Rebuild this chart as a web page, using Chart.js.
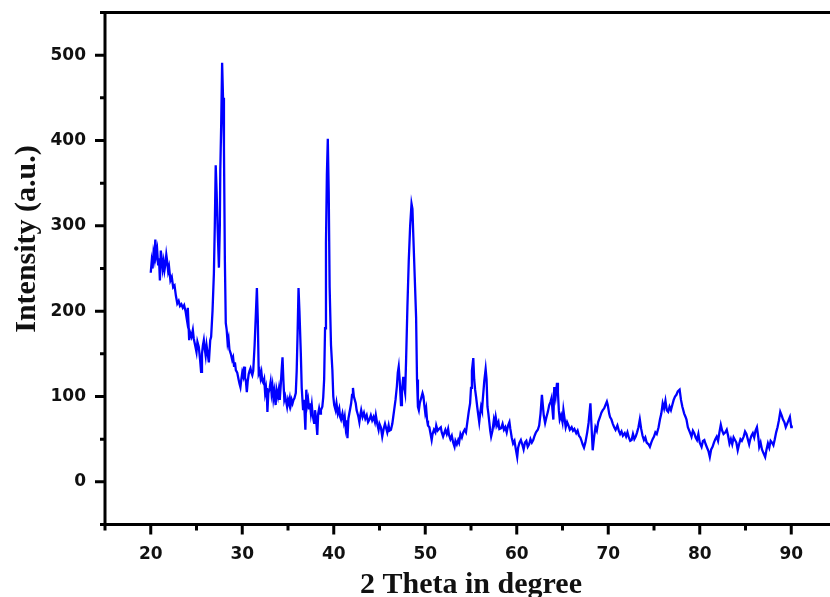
<!DOCTYPE html>
<html>
<head>
<meta charset="utf-8">
<title>XRD pattern</title>
<script src="https://cdn.jsdelivr.net/npm/chart.js@4.4.1/dist/chart.umd.min.js"></script>
<style>
  html, body { margin: 0; padding: 0; background: #fff; overflow: hidden; }
  #xrdChart { position: absolute; left: 0; top: 0; width: 840px; height: 597px; }
</style>
</head>
<body>
<canvas id="xrdChart" width="840" height="597"></canvas>
<script>
// scan data, [2 theta, intensity]
var scan20to35 = [
  [20.0,245],[20.1,258],[20.2,250],[20.3,268],[20.4,262],[20.5,284],[20.6,266],[20.7,272],[20.8,255],[20.9,262],
  [21.0,236],[21.1,271],[21.2,262],[21.3,250],[21.4,258],[21.5,248],[21.6,255],[21.7,266],[21.8,258],[21.9,247],
  [22.0,252],[22.15,236],[22.3,240],[22.45,228],[22.6,230],[22.75,218],[22.9,209],[23.05,212],[23.2,206],[23.35,208],
  [23.5,204],[23.65,207],[23.8,200],[23.95,190],[24.05,204],[24.2,166],[24.3,175],[24.45,170],[24.6,178],[24.7,168],
  [24.85,160],[25.0,152],[25.1,164],[25.25,158],[25.4,142],[25.5,129],[25.6,150],[25.7,160],[25.8,166],[25.9,156],
  [26.0,148],[26.1,160],[26.2,152],[26.35,140],[26.5,166],[26.6,170],[26.75,200],[26.9,244],[27.0,300],[27.1,371],
  [27.2,340],[27.3,300],[27.45,251],[27.55,300],[27.6,365],[27.7,420],[27.8,491],[27.9,450],[28.0,392],[28.1,260],
  [28.2,186],[28.3,178],[28.4,163],[28.5,168],[28.6,155],[28.75,150],[28.9,143],[29.0,146],[29.1,136],[29.2,140],
  [29.3,131],[29.45,128],[29.6,120],[29.7,115],[29.8,111],[29.9,120],[30.0,128],[30.1,124],[30.2,135],[30.3,122],
  [30.4,118],[30.5,105],[30.6,118],[30.7,126],[30.8,130],[30.9,133],[31.0,128],[31.1,125],[31.2,130],[31.35,160],
  [31.5,200],[31.6,227],[31.7,190],[31.8,127],[31.9,130],[32.0,122],[32.1,128],[32.2,118],[32.3,116],[32.4,120],
  [32.5,104],[32.6,110],[32.7,98],[32.75,82],[32.85,104],[33.0,110],[33.1,117],[33.2,104],[33.3,112],[33.4,98],
  [33.5,106],[33.65,90],[33.75,108],[33.9,100],[34.0,108],[34.1,96],[34.2,112],[34.3,130],[34.4,146],[34.5,118],
  [34.6,96],[34.7,100],[34.8,94],[34.9,88]
];
var scan35to50 = [
  [35.0,96],[35.1,92],[35.2,98],[35.3,90],[35.4,96],[35.5,92],[35.6,96],[35.7,98],[35.85,104],[35.95,130],
  [36.05,175],[36.15,227],[36.25,200],[36.4,151],[36.5,110],[36.65,84],[36.75,96],[36.9,61],[37.0,108],[37.1,90],
  [37.2,96],[37.3,86],[37.4,92],[37.5,81],[37.6,90],[37.7,78],[37.85,69],[37.95,84],[38.05,76],[38.2,55],
  [38.3,80],[38.4,86],[38.5,80],[38.6,84],[38.75,88],[38.85,99],[38.95,120],[39.05,180],[39.15,280],[39.25,360],
  [39.35,402],[39.45,340],[39.55,228],[39.7,160],[39.85,131],[39.95,100],[40.05,90],[40.2,84],[40.3,92],[40.45,80],
  [40.6,86],[40.7,76],[40.8,73],[40.95,80],[41.1,70],[41.2,76],[41.3,64],[41.4,72],[41.5,51],[41.6,74],
  [41.7,80],[41.8,86],[41.9,92],[42.0,102],[42.1,110],[42.2,100],[42.3,96],[42.4,92],[42.5,84],[42.6,80],
  [42.7,76],[42.8,70],[42.9,78],[43.0,84],[43.15,76],[43.3,81],[43.45,74],[43.6,78],[43.75,70],[43.9,73],
  [44.05,78],[44.2,72],[44.35,76],[44.5,70],[44.6,78],[44.75,68],[44.9,61],[45.0,68],[45.15,64],[45.3,53],
  [45.45,62],[45.6,68],[45.7,64],[45.85,58],[46.0,66],[46.1,60],[46.25,61],[46.4,68],[46.5,76],[46.6,84],
  [46.75,96],[46.9,112],[47.0,128],[47.1,135],[47.2,120],[47.35,90],[47.45,106],[47.6,123],[47.7,110],[47.8,104],
  [47.9,140],[48.05,205],[48.2,260],[48.35,300],[48.5,326],[48.6,320],[48.7,287],[48.85,240],[49.0,193],[49.1,120],
  [49.2,88],[49.3,84],[49.4,92],[49.55,98],[49.7,104],[49.8,100],[49.9,90]
];
var scan50to70 = [
  [50.0,81],[50.1,86],[50.2,72],[50.3,66],[50.45,64],[50.55,58],[50.7,49],[50.8,56],[50.95,61],[51.1,58],
  [51.2,66],[51.35,60],[51.5,62],[51.7,64],[51.8,58],[51.95,53],[52.1,58],[52.2,61],[52.35,56],[52.5,62],
  [52.6,55],[52.75,50],[52.9,54],[53.05,46],[53.2,41],[53.3,48],[53.45,44],[53.6,49],[53.7,46],[53.85,56],
  [54.0,52],[54.15,58],[54.3,61],[54.45,58],[54.6,70],[54.75,82],[54.9,92],[55.0,110],[55.1,130],[55.25,145],
  [55.35,120],[55.45,108],[55.55,100],[55.7,86],[55.8,78],[55.9,70],[56.0,80],[56.1,88],[56.2,84],[56.3,98],
  [56.45,118],[56.6,132],[56.7,120],[56.8,88],[56.9,80],[57.0,70],[57.1,60],[57.2,53],[57.35,60],[57.5,73],
  [57.6,68],[57.7,76],[57.85,66],[58.0,70],[58.1,62],[58.3,63],[58.45,68],[58.6,61],[58.75,64],[58.9,58],
  [59.05,66],[59.2,70],[59.3,62],[59.45,52],[59.6,45],[59.75,48],[59.9,38],[60.05,29],[60.15,40],[60.3,46],
  [60.45,49],[60.6,44],[60.75,38],[60.9,46],[61.05,48],[61.2,41],[61.35,44],[61.5,50],[61.65,46],[61.8,49],
  [61.95,54],[62.1,58],[62.3,61],[62.45,66],[62.6,80],[62.75,102],[62.85,90],[62.95,78],[63.1,69],[63.25,76],
  [63.4,82],[63.55,90],[63.7,94],[63.8,98],[63.9,85],[64.0,73],[64.1,111],[64.25,100],[64.4,116],[64.5,105],
  [64.6,84],[64.7,73],[64.85,78],[65.0,70],[65.1,84],[65.2,76],[65.35,64],[65.5,70],[65.65,66],[65.8,61],
  [66.0,64],[66.15,60],[66.3,62],[66.5,57],[66.65,60],[66.8,54],[66.95,52],[67.05,49],[67.2,44],[67.35,40],
  [67.5,46],[67.7,58],[67.85,69],[68.05,92],[68.15,70],[68.3,37],[68.45,52],[68.6,64],[68.75,60],[68.9,70],
  [69.1,76],[69.25,81],[69.4,84],[69.55,86],[69.7,90],[69.85,94],[69.95,90]
];
var scan70to90 = [
  [70.1,80],[70.2,76],[70.35,73],[70.5,68],[70.65,64],[70.8,61],[71.0,66],[71.15,60],[71.3,56],[71.45,59],
  [71.6,54],[71.8,57],[71.95,53],[72.1,58],[72.25,52],[72.4,48],[72.55,49],[72.7,56],[72.85,50],[73.0,53],
  [73.15,58],[73.3,64],[73.45,73],[73.6,62],[73.75,54],[73.9,49],[74.05,52],[74.2,46],[74.4,44],[74.55,41],
  [74.7,46],[74.85,50],[75.0,53],[75.15,58],[75.3,56],[75.5,64],[75.65,73],[75.8,80],[75.95,92],[76.1,86],
  [76.25,95],[76.4,84],[76.55,82],[76.7,88],[76.85,84],[77.0,90],[77.15,96],[77.3,100],[77.45,102],[77.6,106],
  [77.8,108],[77.95,96],[78.1,88],[78.3,80],[78.45,76],[78.55,73],[78.7,64],[78.85,60],[79.0,56],[79.1,53],
  [79.25,60],[79.4,57],[79.55,52],[79.7,49],[79.85,56],[80.0,46],[80.2,41],[80.35,48],[80.5,49],[80.65,44],
  [80.8,40],[80.95,36],[81.1,29],[81.25,38],[81.4,41],[81.55,46],[81.7,50],[81.85,53],[82.0,48],[82.15,58],
  [82.3,67],[82.45,60],[82.6,56],[82.8,58],[82.95,61],[83.1,54],[83.25,45],[83.4,50],[83.55,44],[83.7,52],
  [83.85,49],[84.0,46],[84.15,37],[84.3,44],[84.45,50],[84.6,48],[84.8,53],[84.95,59],[85.1,56],[85.25,50],
  [85.4,44],[85.5,49],[85.65,54],[85.8,57],[85.95,52],[86.1,60],[86.25,64],[86.4,52],[86.5,41],[86.65,46],
  [86.8,38],[86.95,34],[87.15,29],[87.3,38],[87.45,45],[87.6,40],[87.75,48],[87.9,46],[88.05,43],[88.2,50],
  [88.35,58],[88.5,64],[88.65,72],[88.8,82],[88.95,78],[89.1,73],[89.25,70],[89.4,64],[89.55,68],[89.7,72],
  [89.85,76],[90.0,64],[90.05,66]
];

var xTickLabels = [20, 30, 40, 50, 60, 70, 80, 90];
var yTickLabels = [0, 100, 200, 300, 400, 500];

var points = scan20to35.concat(scan35to50, scan50to70, scan70to90).map(function(p) {
  return { x: p[0], y: p[1] };
});

// frame, major/minor tick marks and axis titles
var framePlugin = {
  id: 'frame',
  afterDraw: function(chart) {
    var ctx = chart.ctx, a = chart.chartArea;
    var xs = chart.scales.x, ys = chart.scales.y;
    ctx.save();
    ctx.strokeStyle = '#000';
    ctx.lineWidth = 3;
    ctx.strokeRect(a.left, a.top, a.right - a.left, a.bottom - a.top);
    ctx.beginPath();
    for (var v = 15; v <= 95; v += 5) {
      var px = xs.getPixelForValue(v);
      ctx.moveTo(px, a.bottom);
      ctx.lineTo(px, a.bottom + (v % 10 === 0 ? 10 : 6));
    }
    for (var w = -50; w <= 550; w += 50) {
      var py = ys.getPixelForValue(w);
      ctx.moveTo(a.left, py);
      ctx.lineTo(a.left - (w % 100 === 0 ? 10 : 5), py);
    }
    ctx.stroke();

    ctx.fillStyle = '#111';
    ctx.font = 'bold 30px "Liberation Serif", "Times New Roman", serif';
    ctx.textAlign = 'center';
    ctx.textBaseline = 'alphabetic';
    ctx.fillText('2 Theta in degree', (a.left + a.right) / 2, 593);
    ctx.translate(35, 239);
    ctx.rotate(-Math.PI / 2);
    ctx.fillText('Intensity (a.u.)', 0, 0);
    ctx.restore();
  }
};

// keep the plot box where the frame is drawn, without label overhang padding
function noOverhang(scale) {
  scale.paddingTop = 0;
  scale.paddingBottom = 0;
  scale.paddingLeft = 0;
  scale.paddingRight = 0;
}

var ctx = document.getElementById('xrdChart').getContext('2d');
var chart = new Chart(ctx, {
  type: 'line',
  data: {
    datasets: [{
      data: points,
      borderColor: '#0000ff',
      borderWidth: 2.3,
      pointRadius: 0,
      tension: 0,
      fill: false
    }]
  },
  options: {
    animation: false,
    responsive: false,
    layout: { padding: { left: 0, top: 12.5, right: 3, bottom: 0 } },
    plugins: { legend: { display: false }, tooltip: { enabled: false } },
    scales: {
      x: {
        type: 'linear',
        min: 15,
        max: 95,
        grid: { display: false, drawTicks: false },
        border: { display: false },
        ticks: {
          stepSize: 5,
          padding: 20,
          color: '#111',
          font: { family: '"DejaVu Sans", sans-serif', size: 17, weight: 'bold' },
          maxRotation: 0,
          autoSkip: false,
          callback: function(v) { return xTickLabels.indexOf(v) >= 0 ? String(v) : ''; }
        },
        afterFit: function(scale) { scale.height = 72.5; noOverhang(scale); }
      },
      y: {
        min: -50,
        max: 550,
        grid: { display: false, drawTicks: false },
        border: { display: false },
        ticks: {
          stepSize: 50,
          padding: 19,
          color: '#111',
          font: { family: '"DejaVu Sans", sans-serif', size: 17, weight: 'bold' },
          autoSkip: false,
          callback: function(v) { return yTickLabels.indexOf(v) >= 0 ? String(v) : ''; }
        },
        afterFit: function(scale) { scale.width = 105; noOverhang(scale); }
      }
    }
  },
  plugins: [framePlugin]
});
</script>
</body>
</html>
